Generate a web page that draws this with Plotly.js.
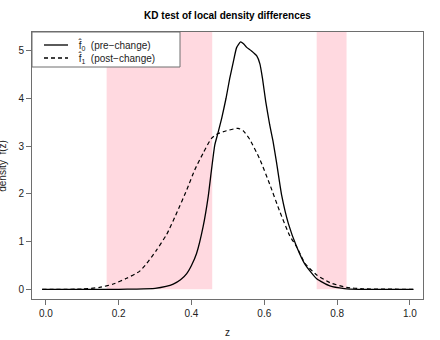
<!DOCTYPE html>
<html>
<head>
<meta charset="utf-8">
<script src="https://cdn.plot.ly/plotly-3.0.1.min.js"></script>
<style>
  html, body { margin: 0; padding: 0; background: #fff; }
  #chart { width: 440px; height: 340px; }
</style>
</head>
<body>
<div id="chart"></div>
<script>
// pre-change density estimate (solid)
const zPre = [-0.01, 0.20, 0.25, 0.30, 0.33, 0.35, 0.37, 0.387, 0.40, 0.414, 0.432, 0.446, 0.455, 0.464, 0.472,
  0.483, 0.495, 0.505, 0.515, 0.524, 0.535, 0.543, 0.551, 0.565, 0.579, 0.588, 0.595, 0.604, 0.615, 0.624,
  0.634, 0.648, 0.666, 0.689, 0.712, 0.744, 0.78, 0.82, 0.86, 1.01];
const fPre = [0, 0, 0.005, 0.02, 0.06, 0.11, 0.2, 0.33, 0.5, 0.75, 1.31, 1.94, 2.5, 3.02, 3.25,
  3.58, 4.0, 4.41, 4.76, 5.06, 5.18, 5.14, 5.07, 4.99, 4.89, 4.72, 4.42, 3.93, 3.44, 3.1,
  2.64, 1.96, 1.38, 0.89, 0.52, 0.22, 0.07, 0.015, 0, 0];

// post-change density estimate (dashed)
const zPost = [-0.01, 0.10, 0.148, 0.185, 0.222, 0.258, 0.277, 0.304, 0.332, 0.359, 0.387, 0.409, 0.432, 0.455,
  0.473, 0.496, 0.528, 0.542, 0.56, 0.588, 0.615, 0.643, 0.67, 0.689, 0.712, 0.744, 0.78, 0.826, 0.87, 1.01];
const fPost = [0, 0.005, 0.04, 0.11, 0.23, 0.38, 0.54, 0.82, 1.15, 1.59, 2.08, 2.5, 2.85, 3.16,
  3.26, 3.32, 3.37, 3.32, 3.14, 2.72, 2.2, 1.62, 1.12, 0.89, 0.54, 0.3, 0.14, 0.04, 0.01, 0];

// regions flagged as locally different
const bandStart = [0.167, 0.744];
const bandEnd = [0.457, 0.826];

const xTicks = [0, 0.2, 0.4, 0.6, 0.8, 1.0];
const yTicks = [0, 1, 2, 3, 4, 5];

const legendLabels = ['f\u0302<sub>0</sub>  (pre\u2212change)', 'f\u0302<sub>1</sub>  (post\u2212change)'];
const legendDash = ['solid', '4px,3px'];

const font = 'Liberation Sans, Arial, Helvetica, sans-serif';
const boxColor = '#6e6e6e';

// plot area in pixels, used to place the hand-drawn legend box
const plotLeft = 32, plotTop = 32, plotW = 391, plotH = 267;
const px = (x) => (x - plotLeft) / plotW;
const py = (y) => (plotTop + plotH - y) / plotH;

const shapes = bandStart.map((start, i) => ({
  type: 'rect',
  layer: 'below',
  xref: 'x',
  yref: 'paper',
  x0: start,
  x1: bandEnd[i],
  y0: 0.203 / 5.59,
  y1: 1,
  line: { width: 0 },
  fillcolor: 'rgba(255,192,203,0.6)',
}));

shapes.push({
  type: 'rect',
  layer: 'above',
  xref: 'paper',
  yref: 'paper',
  x0: px(32), x1: px(180), y0: py(67), y1: py(32),
  fillcolor: '#fff',
  line: { color: boxColor, width: 1 },
});

const annotations = [{
  text: 'density  f(z)',
  xref: 'paper',
  yref: 'paper',
  x: -0.076,
  y: 0.5,
  xanchor: 'center',
  yanchor: 'middle',
  textangle: -90,
  showarrow: false,
  font: { family: font, size: 10, color: '#222' },
}];

legendLabels.forEach((label, i) => {
  const rowY = 45 + i * 13;
  shapes.push({
    type: 'line',
    layer: 'above',
    xref: 'paper',
    yref: 'paper',
    x0: px(44), x1: px(68), y0: py(rowY), y1: py(rowY),
    line: { color: '#000', width: 1.3, dash: legendDash[i] },
  });
  annotations.push({
    text: label,
    xref: 'paper',
    yref: 'paper',
    x: px(76),
    y: py(rowY),
    xanchor: 'left',
    yanchor: 'middle',
    showarrow: false,
    font: { family: font, size: 10, color: '#222' },
  });
});

const traces = [
  {
    type: 'scatter',
    mode: 'lines',
    name: 'pre-change',
    x: zPre,
    y: fPre,
    line: { color: '#000', width: 1.3, shape: 'spline', smoothing: 0.5 },
  },
  {
    type: 'scatter',
    mode: 'lines',
    name: 'post-change',
    x: zPost,
    y: fPost,
    line: { color: '#000', width: 1.2, dash: '4px,3px', shape: 'spline', smoothing: 0.5 },
  },
];

const layout = {
  width: 440,
  height: 340,
  margin: { l: 32, r: 17, t: 32, b: 41 },
  paper_bgcolor: '#fff',
  plot_bgcolor: '#fff',
  font: { family: font, size: 10, color: '#222' },
  title: {
    text: '<b>KD test of local density differences</b>',
    font: { family: font, size: 10, color: '#000' },
    x: 0.517,
    xanchor: 'center',
    y: 0.955,
    yanchor: 'middle',
  },
  showlegend: false,
  xaxis: {
    range: [-0.038, 1.036],
    tickvals: xTicks,
    tickformat: '.1f',
    ticks: 'outside',
    ticklen: 5,
    tickcolor: boxColor,
    showline: true,
    mirror: true,
    linecolor: boxColor,
    linewidth: 1,
    showgrid: false,
    zeroline: false,
    title: { text: 'z', font: { family: font, size: 10, color: '#222' }, standoff: 10 },
  },
  yaxis: {
    range: [-0.203, 5.387],
    tickvals: yTicks,
    ticks: 'outside',
    ticklen: 5,
    tickcolor: boxColor,
    showline: true,
    mirror: true,
    linecolor: boxColor,
    linewidth: 1,
    showgrid: false,
    zeroline: false,
  },
  shapes,
  annotations,
};

Plotly.newPlot('chart', traces, layout, { displayModeBar: false, staticPlot: true });
</script>
</body>
</html>
